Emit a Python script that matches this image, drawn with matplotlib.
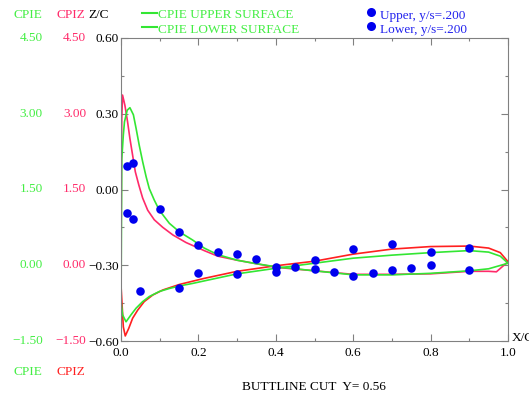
import matplotlib
matplotlib.use("Agg")
import matplotlib.pyplot as plt
from matplotlib.lines import Line2D

# CPIE / CPIZ curves, values on the CPIE scale
ge_up_x = [0.0, 0.002, 0.006, 0.009, 0.016, 0.023, 0.032, 0.039, 0.047, 0.056, 0.065,
           0.073, 0.086, 0.099, 0.125, 0.151, 0.185, 0.215, 0.25, 0.3, 0.35, 0.4, 0.5,
           0.6, 0.7, 0.8, 0.9, 0.95, 1.0]
ge_up_y = [-0.9, 2.1, 2.58, 2.84, 3.07, 3.12, 2.98, 2.71, 2.38, 2.05, 1.75,
           1.52, 1.29, 1.09, 0.83, 0.66, 0.5, 0.34, 0.21, 0.1, 0.03, -0.03, -0.11,
           -0.19, -0.19, -0.16, -0.11, -0.07, 0.04]
ge_lo_x = [0.0, 0.004, 0.013, 0.026, 0.039, 0.056, 0.073, 0.099, 0.125, 0.151, 0.185,
           0.215, 0.3, 0.4, 0.5, 0.6, 0.7, 0.8, 0.9, 0.95, 0.98, 1.0]
ge_lo_y = [-0.7, -0.98, -1.12, -0.98, -0.85, -0.72, -0.62, -0.52, -0.46, -0.41, -0.36,
           -0.31, -0.17, -0.06, 0.04, 0.14, 0.2, 0.25, 0.29, 0.26, 0.18, 0.04]
rz_up_x = [0.0, 0.001, 0.002, 0.004, 0.01, 0.017, 0.023, 0.03, 0.037, 0.046, 0.056,
           0.069, 0.086, 0.108, 0.134, 0.168, 0.215, 0.25, 0.3, 0.35, 0.4, 0.5, 0.6,
           0.7, 0.8, 0.9, 0.95, 0.97, 1.0]
rz_up_y = [-0.3, 2.0, 2.91, 3.37, 3.17, 2.84, 2.51, 2.18, 1.85, 1.59, 1.33,
           1.09, 0.9, 0.75, 0.6, 0.45, 0.29, 0.18, 0.1, 0.03, -0.04, -0.11, -0.18,
           -0.18, -0.17, -0.12, -0.12, -0.13, 0.07]
rz_lo_x = [0.0, 0.006, 0.011, 0.02, 0.03, 0.043, 0.06, 0.082, 0.108, 0.151, 0.215,
           0.3, 0.4, 0.5, 0.6, 0.7, 0.8, 0.9, 0.95, 0.98, 1.0]
rz_lo_y = [-0.4, -1.22, -1.4, -1.25, -1.05, -0.89, -0.72, -0.59, -0.49, -0.38, -0.26,
           -0.12, -0.01, 0.08, 0.22, 0.32, 0.37, 0.38, 0.34, 0.25, 0.07]

# test points
up_x = [0.015, 0.03, 0.1, 0.15, 0.2, 0.25, 0.3, 0.35, 0.4, 0.45, 0.5, 0.55, 0.6, 0.65, 0.7, 0.75, 0.8, 0.9]
up_y = [1.965, 2.025, 1.11, 0.665, 0.395, 0.263, 0.217, 0.118, -0.04, -0.04, -0.07, -0.13, -0.21, -0.16, -0.1, -0.05, 0.005, -0.09]
lo_x = [0.015, 0.03, 0.05, 0.15, 0.2, 0.3, 0.4, 0.5, 0.6, 0.7, 0.8, 0.9]
lo_y = [1.04, 0.92, -0.5, -0.46, -0.16, -0.17, -0.14, 0.104, 0.316, 0.415, 0.257, 0.348]

cp_ticks = [-1.5, 0.0, 1.5, 3.0, 4.5]
cpie_labels = ['\u22121.50', '0.00', '1.50', '3.00', '4.50']
cpiz_labels = ['\u22121.50', '0.00', '1.50', '3.00', '4.50']
zc_labels = ['\u22120.60', '\u22120.30', '0.00', '0.30', '0.60']
x_ticks = [0.0, 0.2, 0.4, 0.6, 0.8, 1.0]
x_labels = ['0.0', '0.2', '0.4', '0.6', '0.8', '1.0']

GREEN = '#33e633'
GREEN_T = '#44ee44'
PINK = '#ff2a6a'
RED = '#ff2020'
BLUE = '#0000ee'
BLUE_T = '#2222ee'
GRAY = '#808080'

plt.rcParams['font.family'] = ['Liberation Serif', 'DejaVu Serif']
fs = 9.5

fig = plt.figure(figsize=(5.29, 3.96), dpi=100)
ax = fig.add_axes([121 / 529, 55 / 396, 387 / 529, 303 / 396])

ax.plot(rz_up_x, rz_up_y, color=PINK, lw=1.2)
ax.plot(rz_lo_x, rz_lo_y, color=RED, lw=1.2)
ax.plot(ge_up_x, ge_up_y, color=GREEN, lw=1.2)
ax.plot(ge_lo_x, ge_lo_y, color=GREEN, lw=1.2)
ax.scatter(up_x, up_y, s=38, color=BLUE, zorder=5, linewidths=0)
ax.scatter(lo_x, lo_y, s=38, color=BLUE, zorder=5, linewidths=0)

ax.set_xlim(0, 1)
ax.set_ylim(-1.5, 4.5)
ax.set_xticks(x_ticks)
ax.set_xticklabels(x_labels, fontsize=fs)
ax.set_xticks([0.1, 0.3, 0.5, 0.7, 0.9], minor=True)
ax.set_yticks(cp_ticks)
ax.set_yticklabels(zc_labels, fontsize=fs)
ax.set_yticks([-0.75, 0.75, 2.25, 3.75], minor=True)
ax.tick_params(which='both', direction='in', top=True, right=True, color=GRAY)
ax.tick_params(which='major', length=5, width=0.8, pad=4)
ax.tick_params(which='minor', length=2.5, width=0.8)
ax.tick_params(axis='y', which='major', pad=1.5)
for sp in ax.spines.values():
    sp.set_color(GRAY)
    sp.set_linewidth(0.8)

# extra Cp scales on the left
for cp, a, b in zip(cp_ticks, cpie_labels, cpiz_labels):
    ax.annotate(a, xy=(43, cp), xycoords=('figure pixels', 'data'),
                ha='right', va='center', color=GREEN_T, fontsize=fs, annotation_clip=False)
    ax.annotate(b, xy=(86, cp), xycoords=('figure pixels', 'data'),
                ha='right', va='center', color=PINK, fontsize=fs, annotation_clip=False)

fig.text(28 / 529, 1 - 15 / 396, 'CPIE', color=GREEN_T, fontsize=fs, ha='center', va='center')
fig.text(71 / 529, 1 - 15 / 396, 'CPIZ', color=PINK, fontsize=fs, ha='center', va='center')
fig.text(99 / 529, 1 - 15 / 396, 'Z/C', color='black', fontsize=fs, ha='center', va='center')
fig.text(28 / 529, 1 - 372 / 396, 'CPIE', color=GREEN_T, fontsize=fs, ha='center', va='center')
fig.text(71 / 529, 1 - 372 / 396, 'CPIZ', color=RED, fontsize=fs, ha='center', va='center')

fig.text(512 / 529, 1 - 338 / 396, 'X/C', color='black', fontsize=fs, ha='left', va='center')
fig.text(314 / 529, 1 - 387 / 396, 'BUTTLINE CUT  Y= 0.56', color='black', fontsize=fs,
         ha='center', va='center')

# legends
for y, lab in [(12.5, 'CPIE UPPER SURFACE'), (27, 'CPIE LOWER SURFACE')]:
    fig.add_artist(Line2D([142 / 529, 157 / 529], [1 - y / 396, 1 - y / 396],
                          color=GREEN, lw=1.5, transform=fig.transFigure))
    fig.text(158 / 529, 1 - (y + 3) / 396, lab, color=GREEN_T, fontsize=fs, ha='left', va='center')
for y, lab in [(12, 'Upper, y/s=.200'), (26, 'Lower, y/s=.200')]:
    fig.add_artist(Line2D([371 / 529], [1 - y / 396], marker='o', markersize=6.5,
                          color=BLUE, markeredgewidth=0, transform=fig.transFigure))
    fig.text(380 / 529, 1 - (y + 3.5) / 396, lab, color=BLUE_T, fontsize=fs, ha='left', va='center')

fig.savefig('out.png', dpi=100)
